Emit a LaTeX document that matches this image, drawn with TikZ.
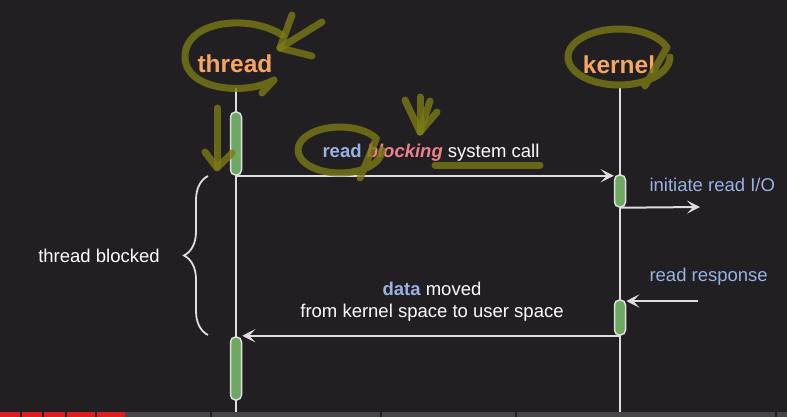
\documentclass[tikz,border=0pt]{standalone}
\usepackage{fontspec}
\setmainfont{Liberation Sans}
\usetikzlibrary{arrows.meta,decorations.pathreplacing}

\definecolor{bg}{RGB}{34,31,34}
\definecolor{actorcol}{RGB}{244,166,98}
\definecolor{bluetext}{RGB}{152,178,228}
\definecolor{pinktext}{RGB}{236,128,140}
\definecolor{barfill}{RGB}{110,168,98}
\definecolor{lineg}{RGB}{222,222,222}
\definecolor{olivemark}{RGB}{122,122,22}
\definecolor{progred}{RGB}{220,30,30}
\definecolor{proggrey}{RGB}{70,70,70}

\begin{document}
\begin{tikzpicture}[x=1pt,y=-1pt,
actor/.style={text=actorcol, font=\fontsize{24.5}{28}\selectfont\bfseries},
label/.style={text=white, font=\fontsize{18.5}{22}\selectfont},
lifeline/.style={draw=lineg, line width=2pt},
act/.style={draw=lineg, fill=barfill, line width=1.5pt, rounded corners=5pt, minimum width=11pt, inner sep=0pt},
msg/.style={draw=lineg, line width=2pt, -{Stealth[length=13pt,width=13pt,inset=6pt]}},
scribble/.style={draw=olivemark, line width=7pt, line cap=round, line join=round, opacity=0.8},
]
\fill[bg] (0,0) rectangle (787,417);
\useasboundingbox (0,0) rectangle (787,417);

% actors and lifelines
\node[actor] (thread) at (235,64) {thread};
\node[actor] (kernel) at (619,65) {kernel};
\coordinate (ttop) at (236,88);
\coordinate (tbot) at (236,417);
\coordinate (ktop) at (620,88);
\coordinate (kbot) at (620,417);
\draw[lifeline] (ttop) -- (tbot);
\draw[lifeline] (ktop) -- (kbot);

% activation bars
\node[act, minimum height=63pt] (tb1) at (236,143.5) {};
\node[act, minimum height=32pt] (kb1) at (620,191) {};
\node[act, minimum height=35pt] (kb2) at (620,317.5) {};
\node[act, minimum height=63pt] (tb2) at (236,368.5) {};

% messages
\coordinate (io) at (700,207);
\coordinate (resp) at (698,301);
\draw[msg] (tb1.south) -- (tb1.south -| kb1.west);
\draw[msg] (kb1.south) -- (io);
\draw[msg] (resp) -- (resp -| kb2.east);
\draw[msg] (kb2.south) -- (kb2.south -| tb2.east);

\node[label] (call) at (431,153) {{\bfseries\color{bluetext}read} {\bfseries\itshape\color{pinktext}blocking} system call};
\node[label, text=bluetext, anchor=west] (initio) at (646,185) {initiate read I/O};
\node[label, text=bluetext, anchor=west] (readresp) at (646,277) {read response};
\node[label, align=center] (moved) at (432,302) {{\bfseries\color{bluetext}data} moved\\from kernel space to user space};

% blocked span
\coordinate (bbot) at (208,335);
\coordinate (btop) at (208,176);
\draw[lineg, line width=1.8pt, decorate, decoration={brace, amplitude=24pt}] (bbot) -- (btop);
\node[label] (blocked) at (99,256) {thread blocked};

% hand marks
\draw[scribble] (282,35) .. controls (250,14) and (186,20) .. (185,56) .. controls (184,90) and (245,96) .. (274,80) -- (262,93);
\draw[scribble] (280,48) -- (322,22);
\draw[scribble] (280,48) -- (292,15);
\draw[scribble] (280,48) -- (312,56);
\draw[scribble] (217,108) -- (217,167);
\draw[scribble] (205,152) -- (217,168) -- (232,153);
\draw[scribble] (382,150) arc[start angle=0, end angle=330, x radius=42, y radius=23] -- (360,178);
\draw[scribble] (420,132) -- (405,100);
\draw[scribble] (420,132) -- (420,97);
\draw[scribble] (420,132) -- (437,112);
\draw[scribble] (420,132) -- (430,101);
\draw[scribble] (435,165) -- (540,165);
\draw[scribble] (670,57) arc[start angle=0, end angle=340, x radius=51, y radius=28] -- (645,86);

% progress strip
\fill[proggrey] (0,412) rectangle (787,417);
\fill[progred] (0,412) rectangle (125,417);
\foreach \xs in {20,42,65,95,210,380,515,775}
  \fill[bg] (\xs,412) rectangle ++(2,5);
\end{tikzpicture}
\end{document}
